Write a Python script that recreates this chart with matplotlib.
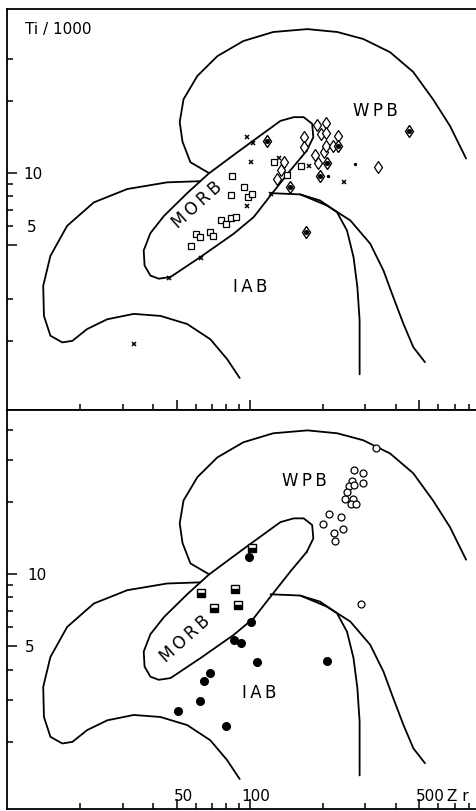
import matplotlib
matplotlib.use('Agg')
import matplotlib.pyplot as plt
from matplotlib.ticker import FixedLocator, NullFormatter
from matplotlib import font_manager

# ---------------- data ----------------
# field boundaries (Zr ppm, Ti/1000)
wpb_zr = [68, 57.0, 52.9, 51.5, 53.4, 60.9, 73.6, 94.2, 125, 173, 230, 294, 379, 472, 570, 670, 780]
wpb_ti = [10.0, 11.1, 13.5, 16.3, 20.3, 25.4, 30.7, 35.5, 38.7, 39.8, 38.7, 36.2, 31.9, 26.4, 20.3, 15.7, 11.5]

iab_zr = [62.5, 45.7, 31.3, 22.8, 17.7, 15.1, 14.1, 14.2, 15.1, 16.9, 18.6, 21.4, 25.9, 33.3, 42.9, 55.3, 68.9, 80.7, 91]
iab_ti = [9.25, 9.15, 8.58, 7.55, 6.03, 4.52, 3.39, 2.54, 2.10, 1.97, 2.0, 2.24, 2.46, 2.59, 2.54, 2.35, 2.03, 1.68, 1.40]

morb_zr = [172, 183, 181, 167, 152, 134, 104, 86, 67.8, 55.3, 44.3, 39.0, 36.6, 36.9, 39.0, 42.2, 47.2, 62.7, 86, 104, 122, 147, 172]
morb_ti = [12.4, 14.1, 16.05, 17.1, 17.1, 16.5, 13.7, 11.9, 9.95, 8.25, 6.62, 5.62, 4.76, 4.12, 3.74, 3.63, 3.69, 4.47, 5.59, 6.56, 8.07, 10.25, 12.4]

iab1_zr = [122, 161.7, 195, 229, 252, 268, 278, 284, 284]
iab1_ti = [8.25, 8.15, 7.69, 6.88, 5.76, 4.47, 3.35, 2.43, 1.45]

iab2_zr = [161.7, 208, 260, 314, 356, 391, 430, 473, 528]
iab2_ti = [8.15, 7.33, 6.35, 5.08, 3.93, 3.04, 2.36, 1.88, 1.63]

# upper panel samples
cross_zr = [97.5, 103, 101, 132, 175, 245, 97.5, 122, 63.3, 46.7, 33.3]
cross_ti = [14.1, 13.4, 11.1, 11.6, 10.7, 9.15, 7.31, 8.15, 4.41, 3.67, 1.94]

square_zr = [84.6, 84.1, 94.5, 98.1, 102, 126, 143, 163, 76.4, 84.1, 88.1, 80.2, 60.3, 62.3, 68.4, 70.7, 57.4]
square_ti = [9.69, 8.12, 8.71, 7.92, 8.18, 11.1, 9.81, 10.7, 6.39, 6.53, 6.58, 6.13, 5.57, 5.39, 5.66, 5.48, 4.98]

diamond_zr = [130, 135, 139, 168, 168, 189, 207, 197, 207, 232, 186, 192, 202, 207, 220, 337]
diamond_ti = [9.44, 10.3, 11.1, 14.1, 12.8, 15.8, 16.2, 14.5, 14.7, 14.3, 11.9, 11.0, 12.2, 13.0, 13.0, 10.6]

dotdiamond_zr = [118, 209, 195, 147, 171, 453, 232]
dotdiamond_ti = [13.6, 11.0, 9.69, 8.71, 5.69, 15.0, 13.0]

speck_zr = [272, 211]
speck_ti = [10.9, 9.69]

# lower panel samples
ocircle_zr = [332, 270, 293, 264, 293, 256, 268, 253, 248, 266, 261, 275, 213, 238, 200, 223, 242, 224, 287]
ocircle_ti = [33.5, 27.2, 26.4, 24.5, 23.9, 23.4, 23.6, 22.0, 20.6, 20.6, 19.6, 19.6, 17.8, 17.4, 16.2, 14.8, 15.4, 13.7, 7.50]

hsquare_zr = [102, 63.1, 86.8, 71.1, 89.3]
hsquare_ti = [12.9, 8.33, 8.66, 7.22, 7.45]

fcircle_zr = [99, 101, 85.9, 92.1, 107, 208, 68.9, 64.7, 62.7, 50.7, 80.2]
fcircle_ti = [11.8, 6.31, 5.33, 5.16, 4.30, 4.35, 3.89, 3.59, 2.97, 2.68, 2.34]

x_major = [50, 100, 500]
x_minor = [20, 30, 40, 60, 70, 80, 90, 200, 300, 400, 600, 700, 800]
y_major = [5, 10]
y_minor_top = [2, 3, 6, 7, 8, 9, 20, 30]
y_minor_bot = [2, 3, 4, 6, 7, 8, 9, 20, 30, 40]

# ---------------- fonts ----------------
names = {f.name for f in font_manager.fontManager.ttflist}
if 'Liberation Sans Narrow' in names:
    NUMFONT = ['Liberation Sans Narrow', 'DejaVu Sans']
    NUM_FS = 13
else:
    NUMFONT = ['DejaVu Sans']
    NUM_FS = 11
FIELDFONT = ['DejaVu Sans']
FIELD_FS = 12

# ---------------- figure ----------------
W, H = 476, 812
fig = plt.figure(figsize=(W / 100, H / 100), dpi=100)
fig.patch.set_facecolor('white')


def rect(l, t, r, b):
    return [l / W, 1 - b / H, (r - l) / W, (b - t) / H]


ax_top = fig.add_axes(rect(7, 9.5, 476, 411))
ax_bot = fig.add_axes(rect(7, 411, 476, 810))

LW = 1.3
for ax, ylo, yhi, yminor in [(ax_top, 1.03, 48.5, y_minor_top), (ax_bot, 1.05, 48.4, y_minor_bot)]:
    ax.set_xscale('log')
    ax.set_yscale('log')
    ax.set_xlim(10, 857)
    ax.set_ylim(ylo, yhi)
    ax.plot(wpb_zr, wpb_ti, color='k', lw=LW, solid_capstyle='round')
    ax.plot(iab_zr, iab_ti, color='k', lw=LW, solid_capstyle='round')
    ax.plot(morb_zr, morb_ti, color='k', lw=LW, solid_capstyle='round')
    ax.plot(iab1_zr, iab1_ti, color='k', lw=LW, solid_capstyle='round')
    ax.plot(iab2_zr, iab2_ti, color='k', lw=LW, solid_capstyle='round')
    ax.spines['right'].set_visible(False)
    for s in ['left', 'top', 'bottom']:
        ax.spines[s].set_linewidth(1.3)
    ax.xaxis.set_major_locator(FixedLocator(x_major))
    ax.xaxis.set_minor_locator(FixedLocator(x_minor))
    ax.yaxis.set_major_locator(FixedLocator(y_major))
    ax.yaxis.set_minor_locator(FixedLocator(yminor))
    for a in (ax.xaxis, ax.yaxis):
        a.set_major_formatter(NullFormatter())
        a.set_minor_formatter(NullFormatter())
    ax.tick_params(which='both', direction='in', top=False, right=False, width=1.1)
    ax.tick_params(which='major', length=7)
    ax.tick_params(which='minor', length=4)

# upper panel markers
ax_top.plot(cross_zr, cross_ti, ls='none', marker='x', color='k', ms=3.5, mew=1.1, zorder=4)
ax_top.plot(square_zr, square_ti, ls='none', marker='s', mfc='white', mec='k', ms=5, mew=0.9, zorder=4)
ax_top.plot(diamond_zr, diamond_ti, ls='none', marker='d', mfc='white', mec='k', ms=6.5, mew=0.9, zorder=4)
ax_top.plot(dotdiamond_zr, dotdiamond_ti, ls='none', marker='d', mfc='white', mec='k', ms=6.5, mew=1.0, zorder=4)
ax_top.plot(dotdiamond_zr, dotdiamond_ti, ls='none', marker='o', color='k', ms=2.6, zorder=5)
ax_top.plot(speck_zr, speck_ti, ls='none', marker='o', color='k', ms=1.4, zorder=4)

# lower panel markers
ax_bot.plot(ocircle_zr, ocircle_ti, ls='none', marker='o', mfc='white', mec='k', ms=5, mew=0.9, zorder=4)
ax_bot.plot(hsquare_zr, hsquare_ti, ls='none', marker='s', fillstyle='bottom', mfc='k',
            markerfacecoloralt='white', mec='k', ms=5.2, mew=1.0, zorder=4)
ax_bot.plot(fcircle_zr, fcircle_ti, ls='none', marker='o', color='k', ms=5.5, zorder=4)

# text: upper panel
ax_top.text(0.038, 0.949, 'Ti / 1000', transform=ax_top.transAxes, ha='left', va='center',
            family=NUMFONT, fontsize=NUM_FS)
yt = ax_top.get_yaxis_transform()
ax_top.text(0.034, 10, '10', transform=yt, ha='left', va='center', family=NUMFONT, fontsize=NUM_FS)
ax_top.text(0.043, 6.0, '5', transform=yt, ha='left', va='center', family=NUMFONT, fontsize=NUM_FS)
ax_top.text(329, 18.3, 'W\u2009P\u2009B', ha='center', va='center', family=FIELDFONT, fontsize=FIELD_FS)
ax_top.text(100.7, 3.38, 'I\u2009A\u2009B', ha='center', va='center', family=FIELDFONT, fontsize=FIELD_FS)
ax_top.text(60.9, 7.43, 'M\u2009O\u2009R\u2009B', ha='center', va='center', rotation=42,
            rotation_mode='anchor', family=FIELDFONT, fontsize=FIELD_FS)

# text: lower panel
yb = ax_bot.get_yaxis_transform()
ax_bot.text(0.043, 10, '10', transform=yb, ha='left', va='center', family=NUMFONT, fontsize=NUM_FS)
ax_bot.text(0.038, 5.0, '5', transform=yb, ha='left', va='center', family=NUMFONT, fontsize=NUM_FS)
ax_bot.text(168, 24.7, 'W\u2009P\u2009B', ha='center', va='center', family=FIELDFONT, fontsize=FIELD_FS)
ax_bot.text(109.6, 3.23, 'I\u2009A\u2009B', ha='center', va='center', family=FIELDFONT, fontsize=FIELD_FS)
ax_bot.text(54.4, 5.43, 'M\u2009O\u2009R\u2009B', ha='center', va='center', rotation=42,
            rotation_mode='anchor', family=FIELDFONT, fontsize=FIELD_FS)
for zr, lab in [(53.4, '50'), (105.5, '100'), (555, '500')]:
    ax_bot.text(zr, 1.19, lab, ha='center', va='center', family=NUMFONT, fontsize=NUM_FS)
ax_bot.text(722, 1.19, 'Z r', ha='center', va='center', family=NUMFONT, fontsize=NUM_FS)

fig.savefig('out.png', dpi=100, facecolor='white')
